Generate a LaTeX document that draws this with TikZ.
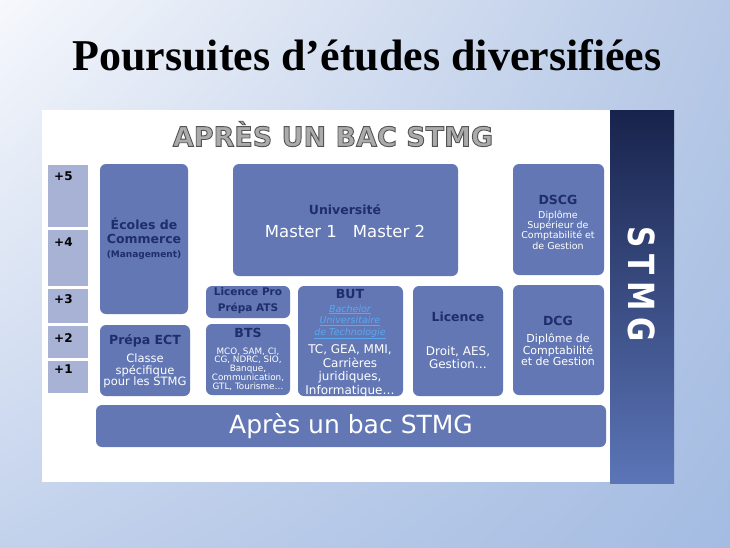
\documentclass[tikz,border=0pt]{standalone}
\usepackage{fontspec}
\setmainfont{DejaVu Sans}
\newfontfamily\titlefont{Liberation Serif}
\usetikzlibrary{fit,shadings}
\definecolor{navytxt}{HTML}{1F2D6B}
\definecolor{boxblue}{HTML}{6277B4}
\definecolor{yearblue}{HTML}{A7B2D5}
\definecolor{striptop}{HTML}{18234C}
\definecolor{stripbot}{HTML}{5B75B7}
\definecolor{linkblue}{HTML}{5AA8F0}
\definecolor{aprlight}{HTML}{ABABAB}
\definecolor{bgTL}{HTML}{F6F8FC}
\definecolor{bgTR}{HTML}{B6C8E6}
\definecolor{bgBL}{HTML}{C3D2EC}
\definecolor{bgBR}{HTML}{A4BCE2}
\newcommand\fs[2]{\fontsize{#1}{#2}\selectfont}
\newcommand\outlinetext[1]{\special{pdf:literal direct 2 Tr 0.9 w 0.33 0.33 0.33 RG}#1\special{pdf:literal direct 0 Tr}}
\begin{document}
\begin{tikzpicture}[x=1pt,y=-1pt,
  box/.style={fill=boxblue, rounded corners=6pt, inner sep=0pt, draw=none},
  yearbox/.style={fill=yearblue, inner sep=0pt, draw=none},
  yearlbl/.style={anchor=west, inner sep=0pt, font=\bfseries\fs{12}{13}, text=black},
  hd/.style={text=navytxt, font=\bfseries\fs{12.5}{14}, align=center, inner sep=0pt},
  wt/.style={text=white, align=center, inner sep=0pt},
  lnk/.style={text=linkblue, align=center, inner sep=0pt, font=\itshape\fs{9.5}{11.5}},
  apres/.style={inner sep=0pt, font=\bfseries\fs{27}{29}}]
\useasboundingbox (0,0) rectangle (730,547);
\shade[upper left=bgTL, upper right=bgTR, lower left=bgBL, lower right=bgBR] (0,0) rectangle (730,547);
% title
\node[anchor=base, inner sep=0pt, font=\titlefont\bfseries\fs{44}{48}, text=black] (title) at (367,70) {Poursuites d’études diversifiées};
% panel
\node[fill=white, inner sep=0pt, fit={(42,110) (610,482)}] (panel) {};
\node[top color=striptop, bottom color=stripbot, inner sep=0pt, fit={(610,110) (674,483)}] (strip) {};
\node[text=white, rotate=-90, xscale=0.82, inner sep=0pt, font=\bfseries\fs{36}{38}] (stmg) at (642,284) {S\hspace{8pt}T\hspace{8pt}M\hspace{8pt}G};
% panel heading
\node[apres, text=aprlight] (apres) at (333,134) {\outlinetext{APRÈS UN BAC STMG}};
% years
\node[yearbox, fit={(48,165) (88,227)}] (y5) {};
\node[yearbox, fit={(48,230) (88,286)}] (y4) {};
\node[yearbox, fit={(48,289) (88,323)}] (y3) {};
\node[yearbox, fit={(48,326) (88,358)}] (y2) {};
\node[yearbox, fit={(48,361) (88,393)}] (y1) {};
\node[yearlbl] (l5) at (54,176) {+5};
\node[yearlbl] (l4) at (54,242) {+4};
\node[yearlbl] (l3) at (54,299) {+3};
\node[yearlbl] (l2) at (54,338) {+2};
\node[yearlbl] (l1) at (54,369) {+1};
% boxes
\node[box, fit={(100,164) (188,314)}] (ecoles) {};
\node[box, fit={(100,325) (190,396)}] (ect) {};
\node[box, fit={(233,164) (458,276)}] (univ) {};
\node[box, fit={(206,286) (290,318)}] (lpro) {};
\node[box, fit={(206,324) (290,395)}] (bts) {};
\node[box, fit={(298,286) (403,396)}] (but) {};
\node[box, fit={(413,286) (503,396)}] (lic) {};
\node[box, fit={(513,164) (604,275)}] (dscg) {};
\node[box, fit={(513,285) (604,395)}] (dcg) {};
\node[box, fit={(96,405) (606,447)}] (bac) {};
% texts
\node[hd] (ecolesT) at (144,239) {Écoles de\\Commerce\\{\fs{9}{13}(Management)}};
\node[hd] (ectT) at (145,341) {Prépa ECT};
\node[wt, font=\fs{11.5}{11.8}] (ectS) at (145,371) {Classe\\spécifique\\pour les STMG};
\node[hd] (univT) at (345,210) {Université};
\node[wt, font=\fs{16.5}{18}] (univS) at (345,231) {Master 1\hspace{16pt}Master 2};
\node[hd, font=\bfseries\fs{10.5}{16}] (lproT) at (248,301) {Licence Pro\\Prépa ATS};
\node[hd] (btsT) at (248,333) {BTS};
\node[wt, font=\fs{8.8}{8.8}] (btsS) at (248,369) {MCO, SAM, CI,\\CG, NDRC, SIO,\\Banque,\\Communication,\\GTL, Tourisme…};
\node[hd] (butT) at (350,294) {BUT};
\node[lnk] (butL) at (350,322) {\underline{Bachelor}\\\underline{Universitaire}\\\underline{de Technologie}};
\node[wt, font=\fs{12}{13.5}] (butS) at (350,371) {TC, GEA, MMI,\\Carrières\\juridiques,\\Informatique…};
\node[hd] (licT) at (458,317) {Licence};
\node[wt, font=\fs{12}{13}] (licS) at (458,358) {Droit, AES,\\Gestion…};
\node[hd] (dscgT) at (558,200) {DSCG};
\node[wt, font=\fs{9.5}{10.4}] (dscgS) at (558,230) {Diplôme\\Supérieur de\\Comptabilité et\\de Gestion};
\node[hd] (dcgT) at (558,321) {DCG};
\node[wt, font=\fs{11}{11.6}] (dcgS) at (558,350) {Diplôme de\\Comptabilité\\et de Gestion};
\node[wt, font=\fs{25}{27}] (bacT) at (351,426) {Après un bac STMG};
\end{tikzpicture}
\end{document}
